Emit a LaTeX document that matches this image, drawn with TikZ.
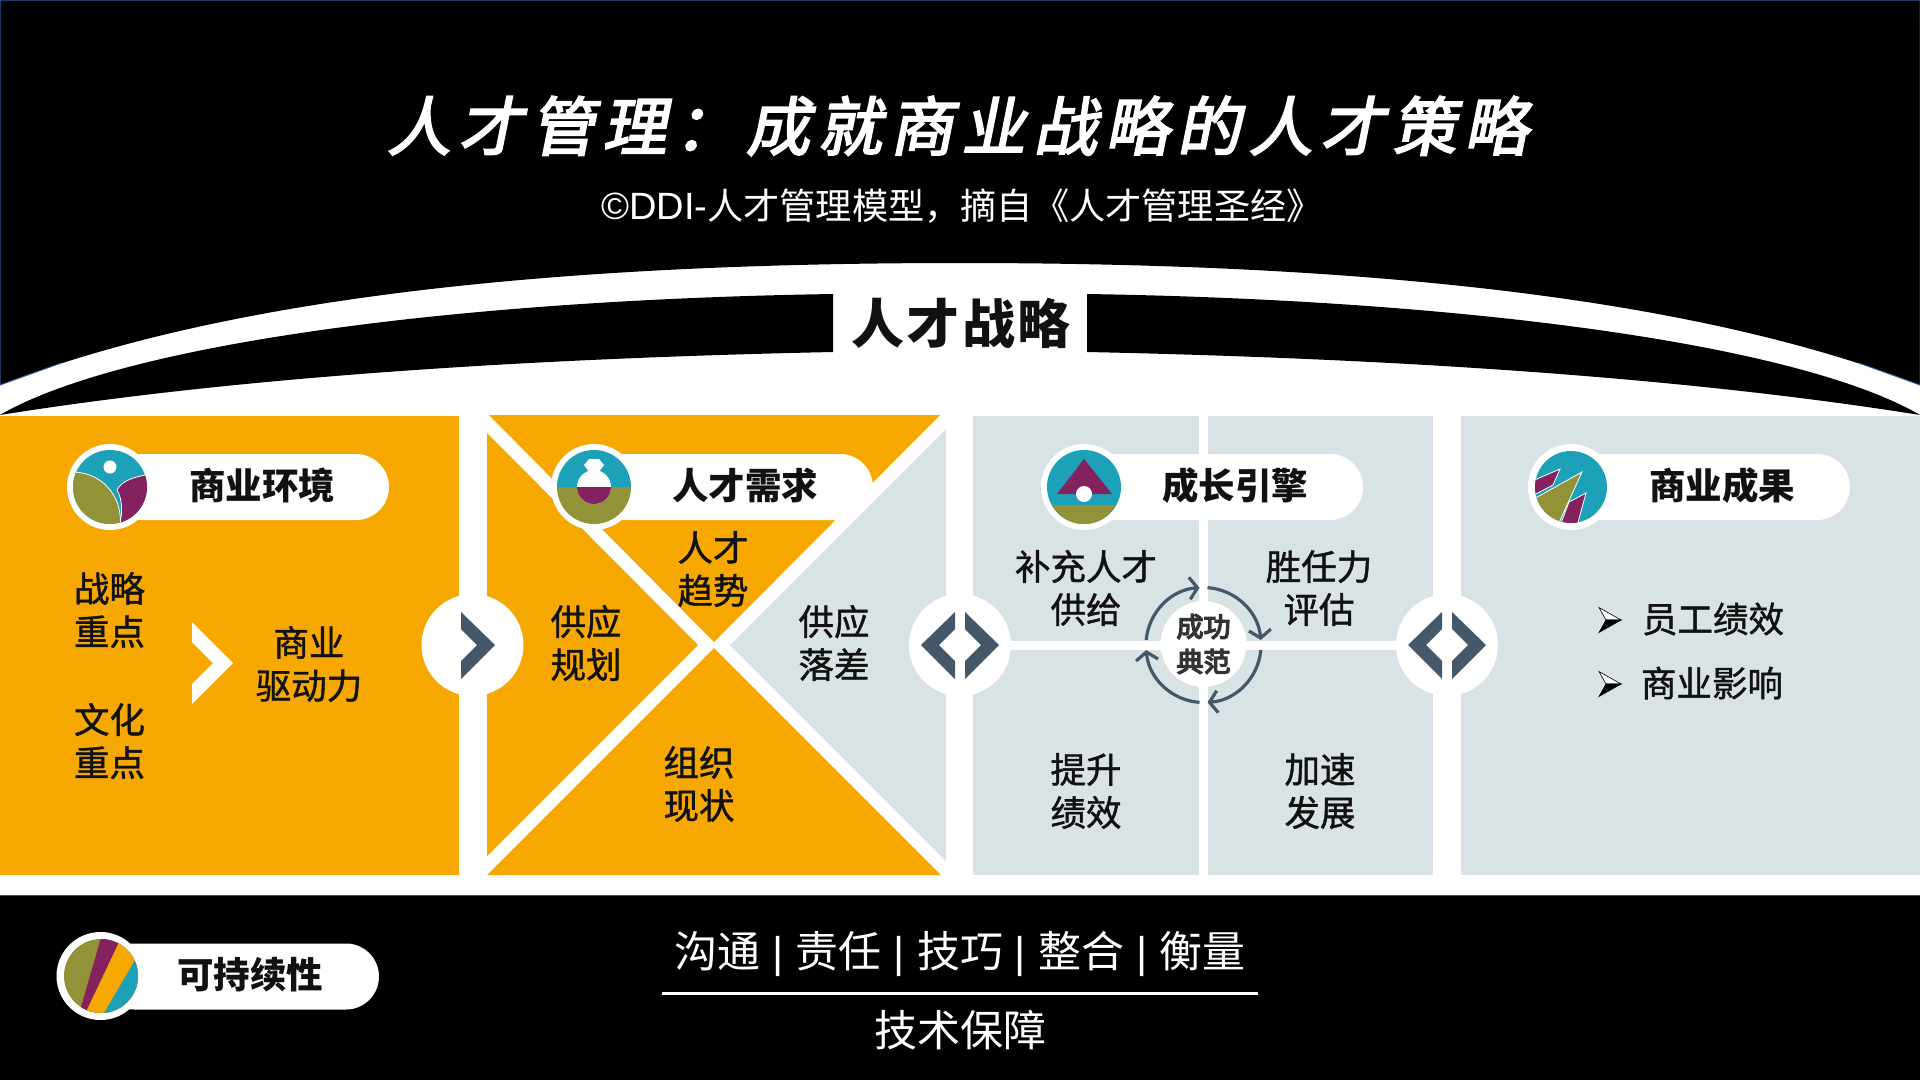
\documentclass[tikz,border=0pt]{standalone}
\usepackage{fontspec}
\setmainfont{Noto Sans CJK SC}
\newfontfamily\titlefont[FakeSlant=0.2,LetterSpace=12.2,FakeBold=3]{Noto Sans CJK SC}
\newfontfamily\headfont[LetterSpace=5]{Noto Sans CJK SC}
\newfontfamily\medfont[FakeBold=1.2]{Noto Sans CJK SC}
\newfontfamily\hubfont[FakeBold=5]{Noto Sans CJK SC}
\newfontfamily\latinfont{Liberation Sans}
\usetikzlibrary{arrows.meta}
\definecolor{amber}{HTML}{F6A800}
\definecolor{mist}{HTML}{D9E2E5}
\definecolor{teal1}{HTML}{1CA1B8}
\definecolor{olive1}{HTML}{929238}
\definecolor{plum1}{HTML}{84215F}
\definecolor{slate1}{HTML}{44586A}
\definecolor{edge1}{HTML}{2F5597}
\definecolor{ink1}{HTML}{111111}
\newcommand{\barsep}{{\latinfont\ |\ }}
\newcommand{\widecolon}{\symbol{"FF1A}}
\newcommand{\widecomma}{\symbol{"FF0C}}
\tikzset{
    body/.style={font=\fontsize{35.5}{43}\selectfont\medfont, align=center, text=ink1, inner sep=0pt},
    foot/.style={font=\fontsize{43}{50}\selectfont, text=white, inner sep=0pt},
    pill/.style={fill=white, rounded corners=33pt, minimum height=66pt, inner sep=0pt},
    pilltext/.style={font=\fontsize{36.5}{40}\selectfont\bfseries, text=ink1, inner sep=0pt},
    ring/.style={circle, fill=white, minimum size=86pt, inner sep=0pt},
    hub/.style={circle, fill=white, minimum size=86pt, inner sep=0pt, align=center,
        font=\fontsize{27}{35}\selectfont\hubfont, text=black!80},
    knob/.style={circle, fill=white, minimum size=102pt, inner sep=0pt},
    cyc/.style={draw=slate1, line width=3.2pt, -{Straight Barb[length=8pt,width=22pt,line width=3.2pt]}},
    hairline/.style={draw=white, line width=0.8pt},
    markhalf/.style={draw=black, line width=0.6pt, line join=miter}
}
\begin{document}
\begin{tikzpicture}[x=1pt,y=1pt]
    \useasboundingbox (0,0) rectangle (1920,-1080);
    \fill[white] (0,0) rectangle (1920,-1080);

    % top band and arch
    \fill[black] (0,0) -- (1920,0) -- (1920,-385)
        .. controls (1700,-300) and (1380,-263) .. (960,-263)
        .. controls (540,-263) and (220,-300) .. (0,-385) -- cycle;
    \draw[edge1, line width=1pt] (61,-363) -- (0,-385) -- (0,0) -- (1920,0) -- (1920,-385) -- (1859,-363);
    \fill[black] (0,-415) .. controls (120,-345) and (450,-300) .. (833,-294)
        -- (833,-352) .. controls (550,-358) and (250,-375) .. (0,-415) -- cycle;
    \fill[black] (1920,-415) .. controls (1800,-345) and (1470,-300) .. (1087,-294)
        -- (1087,-352) .. controls (1370,-358) and (1670,-375) .. (1920,-415) -- cycle;

    \node[font=\fontsize{64}{70}\selectfont\titlefont, text=white, inner sep=0pt] (title) at (957.5,-126) {人才管理\widecolon 成就商业战略的人才策略};
    \node[font=\fontsize{36.2}{40}\selectfont, text=white, inner sep=0pt] (subtitle) at (962,-206) {{\fontsize{38}{40}\selectfont\latinfont ©DDI-}人才管理模型\widecomma 摘自《人才管理圣经》};
    \node[font=\fontsize{53}{60}\selectfont\headfont\bfseries, text=ink1, inner sep=0pt] (strategy) at (961,-323) {人才战略};

    % bottom band
    \fill[black] (0,-895) rectangle (1920,-1080);
    \draw[edge1, line width=1pt] (0,-895) -- (1920,-895);

    % panels
    \fill[amber] (0,-416) rectangle (459,-875);
    \fill[amber] (489,-415) -- (940,-415) -- (714,-642) -- cycle;
    \fill[amber] (487,-433) -- (698,-645) -- (487,-856) -- cycle;
    \fill[amber] (714,-648) -- (941,-875) -- (487,-875) -- cycle;
    \fill[mist] (730,-645) -- (946,-429) -- (946,-861) -- cycle;
    \fill[mist] (973,-416) rectangle (1433,-875);
    \fill[mist] (1461,-416) rectangle (1920,-875);
    \fill[white] (1199,-416) rectangle (1208,-875);
    \fill[white] (973,-641) rectangle (1433,-650);

    % knobs between the panels
    \node[knob] (knobA) at (472.5,-645) {};
    \node[knob] (knobB) at (960,-645) {};
    \node[knob] (knobC) at (1447,-645) {};
    \fill[slate1] (461,-612) -- (495,-645) -- (461,-679) -- (461,-661) -- (477,-645) -- (461,-629) -- cycle;
    \fill[slate1] (955,-612) -- (921,-645) -- (955,-679) -- (955,-661) -- (939,-645) -- (955,-629) -- cycle;
    \fill[slate1] (965,-612) -- (999,-645) -- (965,-679) -- (965,-661) -- (981,-645) -- (965,-629) -- cycle;
    \fill[slate1] (1442,-612) -- (1408,-645) -- (1442,-679) -- (1442,-661) -- (1426,-645) -- (1442,-629) -- cycle;
    \fill[slate1] (1452,-612) -- (1486,-645) -- (1452,-679) -- (1452,-661) -- (1468,-645) -- (1452,-629) -- cycle;
    \fill[white] (192,-622) -- (233,-663) -- (192,-704) -- (192,-684) -- (213,-663) -- (192,-642) -- cycle;

    % header pills
    \node[pill, minimum width=279pt] (envpill) at (249.5,-487) {};
    \node[pill, minimum width=279pt] (needpill) at (733.5,-487) {};
    \node[pill, minimum width=279pt] (growpill) at (1223.5,-487) {};
    \node[pill, minimum width=279pt] (resultpill) at (1710.5,-487) {};
    \node[pill, minimum width=278pt] (keeppill) at (240,-976.5) {};
    \node[ring] (envring) at (110,-487) {};
    \node[ring] (needring) at (594,-487) {};
    \node[ring] (growring) at (1084,-487) {};
    \node[ring] (resultring) at (1571,-487) {};
    \node[ring, minimum size=88pt] (keepring) at (100.5,-976) {};
    \node[pilltext] (envtext) at (262,-486) {商业环境};
    \node[pilltext] (needtext) at (745,-486) {人才需求};
    \node[pilltext] (growtext) at (1235,-486) {成长引擎};
    \node[pilltext] (resulttext) at (1722,-486) {商业成果};
    \node[pilltext] (keeptext) at (250,-975) {可持续性};

    % icon of the first pill
    \begin{scope}
        \clip (110,-487) circle [radius=37];
        \fill[teal1] (70,-447) rectangle (150,-527);
        \filldraw[fill=plum1, hairline] (117,-490) .. controls (122,-480) and (135,-477) .. (150,-474)
            -- (155,-530) -- (118,-530) .. controls (123,-515) and (123,-500) .. (117,-490) -- cycle;
        \filldraw[fill=olive1, hairline] (68,-472) .. controls (100,-470) and (124,-495) .. (120,-528)
            -- (60,-530) -- cycle;
        \fill[white] (110,-467) circle [radius=6.5];
    \end{scope}

    % icon of the second pill
    \begin{scope}
        \clip (594,-487) circle [radius=37];
        \fill[teal1] (554,-447) rectangle (634,-487);
        \fill[olive1] (554,-487) rectangle (634,-527);
        \fill[white] (594,-487) circle [radius=17];
        \fill[white] (589,-459) -- (599,-459) -- (604,-465) -- (598,-473) -- (590,-473) -- (584,-465) -- cycle;
        \fill[plum1] (577,-487) arc (180:360:17) -- cycle;
    \end{scope}

    % icon of the third pill
    \begin{scope}
        \clip (1084,-487) circle [radius=37];
        \fill[teal1] (1044,-447) rectangle (1124,-527);
        \fill[olive1] (1044,-505) rectangle (1124,-527);
        \fill[plum1] (1084,-459) -- (1112,-494) -- (1057,-494) -- cycle;
        \fill[white] (1084,-494) circle [radius=8];
    \end{scope}

    % icon of the fourth pill
    \begin{scope}
        \clip (1571,-487) circle [radius=36];
        \fill[teal1] (1531,-447) rectangle (1611,-527);
        \filldraw[fill=plum1, hairline] (1560,-469) -- (1553,-485) -- (1530,-497) -- (1530,-482) -- cycle;
        \filldraw[fill=plum1, hairline] (1586,-493) -- (1577,-526) -- (1560,-526) -- (1569,-502) -- cycle;
        \filldraw[fill=olive1, hairline] (1582,-472) -- (1557.5,-526) -- (1530,-526) -- (1530,-501) -- cycle;
    \end{scope}

    % icon of the bottom pill
    \begin{scope}
        \clip (101,-976) circle [radius=37];
        \fill[olive1] (60,-936) rectangle (142,-1016);
        \fill[plum1] (101.5,-936) -- (78.5,-1016) -- (142,-1016) -- (142,-936) -- cycle;
        \fill[amber] (122,-936) -- (84,-1016) -- (142,-1016) -- (142,-936) -- cycle;
        \fill[teal1] (138,-955) -- (100,-1020) -- (142,-1020) -- (142,-955) -- cycle;
    \end{scope}

    % texts of the panels
    \node[body] (focusA) at (109.5,-610) {战略\\重点};
    \node[body] (focusB) at (109.5,-741) {文化\\重点};
    \node[body] (driver) at (309,-664) {商业\\驱动力};
    \node[body] (supply) at (586,-643) {供应\\规划};
    \node[body] (trend) at (713,-569) {人才\\趋势};
    \node[body] (gap) at (834,-643) {供应\\落差};
    \node[body] (current) at (699,-784) {组织\\现状};
    \node[body] (acquire) at (1086,-588) {补充人才\\供给};
    \node[body] (assess) at (1319,-588) {胜任力\\评估};
    \node[body] (perform) at (1086,-791) {提升\\绩效};
    \node[body] (develop) at (1320,-791) {加速\\发展};

    % cycle round the hub
    \node[hub] (hub) at (1203.5,-644) {成功\\典范};
    \draw[cyc] (1203.5,-645) ++(175:57.5) arc (175:94:57.5);
    \draw[cyc] (1203.5,-645) ++(86:57.5) arc (86:5:57.5);
    \draw[cyc] (1203.5,-645) ++(-5:57.5) arc (-5:-86:57.5);
    \draw[cyc] (1203.5,-645) ++(-94:57.5) arc (-94:-175:57.5);

    % results
    \filldraw[markhalf, fill=white] (1599,-607.5) -- (1621,-620) -- (1606,-620) -- cycle;
    \filldraw[markhalf, fill=black] (1599,-632.5) -- (1621,-620) -- (1606,-620) -- cycle;
    \filldraw[markhalf, fill=white] (1599,-671.5) -- (1621,-684) -- (1606,-684) -- cycle;
    \filldraw[markhalf, fill=black] (1599,-696.5) -- (1621,-684) -- (1606,-684) -- cycle;
    \node[body] (staff) at (1713,-619) {员工绩效};
    \node[body] (impact) at (1712,-683) {商业影响};

    % footer
    \node[foot] (skills) at (960,-954) {沟通\barsep 责任\barsep 技巧\barsep 整合\barsep 衡量};
    \coordinate (ruleL) at (662,-993);
    \coordinate (ruleR) at (1258,-993);
    \draw[white, line width=3pt] (ruleL) -- (ruleR);
    \node[foot] (tech) at (960,-1030) {技术保障};
\end{tikzpicture}
\end{document}
